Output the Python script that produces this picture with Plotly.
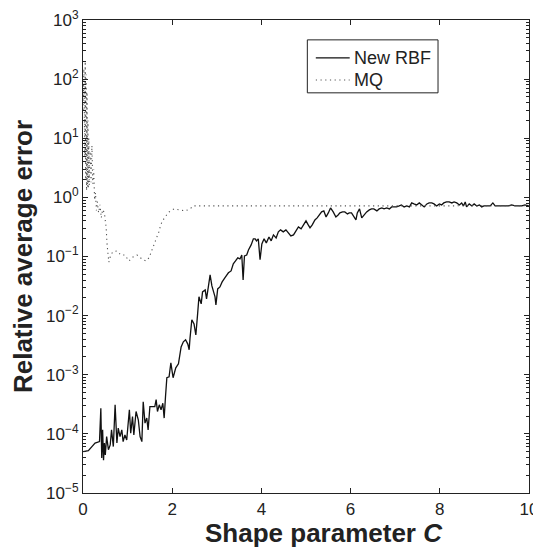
import plotly.graph_objects as go

# ---- data ----
C_rbf = [
    0.01, 0.12, 0.20, 0.27, 0.37, 0.40, 0.42, 0.44, 0.46, 0.48,
    0.50, 0.53, 0.57, 0.61, 0.64, 0.68, 0.72, 0.76, 0.79, 0.83,
    0.87, 0.90, 0.94, 0.98, 1.02, 1.04, 1.07, 1.11, 1.14, 1.19,
    1.24, 1.28, 1.32, 1.35, 1.39, 1.43, 1.46, 1.50, 1.56, 1.61,
    1.64, 1.67, 1.71, 1.75, 1.79, 1.82, 1.85, 1.88, 1.93, 1.97,
    2.02, 2.08, 2.14, 2.20, 2.25, 2.30, 2.35, 2.38, 2.40, 2.44,
    2.49, 2.53, 2.57, 2.60, 2.65, 2.68, 2.74, 2.77, 2.81, 2.85,
    2.89, 2.92, 2.96, 2.98, 3.02, 3.07, 3.12, 3.18, 3.26, 3.32,
    3.37, 3.42, 3.47, 3.52, 3.56, 3.59, 3.62, 3.67, 3.71, 3.77,
    3.82, 3.86, 3.89, 3.93, 3.97, 4.01, 4.06, 4.11, 4.17, 4.22,
    4.27, 4.33, 4.38, 4.43, 4.49, 4.55, 4.60, 4.66, 4.72, 4.78,
    4.83, 4.89, 4.96, 5.00, 5.05, 5.09, 5.14, 5.20, 5.25, 5.31,
    5.35, 5.40, 5.45, 5.50, 5.55, 5.61, 5.67, 5.72, 5.76, 5.82,
    5.87, 5.93, 5.97, 6.02, 6.08, 6.12, 6.15, 6.20, 6.25, 6.30,
    6.36, 6.42, 6.47, 6.52, 6.59, 6.64, 6.70, 6.75, 6.81, 6.87,
    6.92, 6.97, 7.03, 7.09, 7.14, 7.20, 7.26, 7.32, 7.37, 7.42,
    7.48, 7.54, 7.59, 7.65, 7.71, 7.76, 7.82, 7.87, 7.93, 7.99,
    8.04, 8.09, 8.15, 8.21, 8.27, 8.32, 8.38, 8.44, 8.49, 8.53,
    8.57, 8.60, 8.66, 8.72, 8.77, 8.83, 8.89, 8.94, 8.99, 9.05,
    9.13, 9.19, 9.24, 9.31, 9.39, 9.46, 9.54, 9.61, 9.69, 9.76,
    9.84, 9.91, 10.0,
]
err_rbf = [
    5.0e-5, 5.2e-5, 6.1e-5, 7.0e-5, 7.4e-5, 2.7e-4, 3.9e-5, 1.17e-4, 3.6e-5, 7.0e-5,
    4.4e-5, 9.0e-5, 5.4e-5, 6.5e-5, 1.17e-4, 6.1e-5, 3.1e-4, 7.0e-5, 1.25e-4, 9.0e-5,
    1.17e-4, 7.4e-5, 9.6e-5, 7.9e-5, 1.73e-4, 2.55e-4, 1.03e-4, 1.96e-4, 9.6e-5, 2.39e-4,
    1.73e-4, 9.0e-5, 7.4e-5, 3.5e-4, 1.52e-4, 1.85e-4, 1.17e-4, 2.9e-4, 2.9e-4, 2.9e-4,
    3.8e-4, 2.39e-4, 3.1e-4, 2.55e-4, 3.3e-4, 1.85e-4, 4.3e-4, 8.9e-4, 9.2e-4, 1.59e-3,
    8.9e-4, 1.31e-3, 1.53e-3, 2.96e-3, 3.6e-3, 3.9e-3, 3.3e-3, 2.64e-3, 4.2e-3, 8.5e-3,
    7.2e-3, 4.7e-3, 1.07e-2, 2.08e-2, 1.58e-2, 2.52e-2, 2.72e-2, 1.92e-2, 3.06e-2, 4.9e-2,
    3.18e-2, 2.52e-2, 2.08e-2, 1.52e-2, 2.83e-2, 3.06e-2, 3.72e-2, 4.35e-2, 5.3e-2, 5.7e-2,
    7.5e-2, 8.4e-2, 9.5e-2, 9.1e-2, 0.106, 4.0e-2, 0.102, 0.106, 0.129, 0.157,
    0.199, 0.199, 0.184, 0.199, 8.8e-2, 0.163, 0.199, 0.170, 0.214, 0.184,
    0.232, 0.206, 0.261, 0.282, 0.261, 0.282, 0.251, 0.223, 0.232, 0.282,
    0.316, 0.293, 0.370, 0.400, 0.342, 0.305, 0.342, 0.416, 0.450, 0.505,
    0.568, 0.590, 0.467, 0.546, 0.664, 0.568, 0.467, 0.505, 0.546, 0.568,
    0.568, 0.525, 0.546, 0.546, 0.467, 0.416, 0.546, 0.638, 0.450, 0.505,
    0.568, 0.614, 0.638, 0.638, 0.590, 0.638, 0.664, 0.638, 0.664, 0.638,
    0.690, 0.690, 0.690, 0.717, 0.745, 0.690, 0.717, 0.690, 0.805, 0.775,
    0.745, 0.805, 0.745, 0.690, 0.775, 0.805, 0.805, 0.775, 0.717, 0.775,
    0.745, 0.805, 0.837, 0.837, 0.805, 0.837, 0.805, 0.745, 0.805, 0.717,
    0.837, 0.690, 0.775, 0.717, 0.775, 0.717, 0.745, 0.690, 0.717, 0.717,
    0.717, 0.805, 0.717, 0.717, 0.717, 0.717, 0.717, 0.745, 0.717, 0.717,
    0.717, 0.745, 0.717,
]

C_mq = [
    0.00, 0.02, 0.04, 0.05, 0.06, 0.07, 0.08, 0.09, 0.10, 0.11,
    0.12, 0.13, 0.14, 0.16, 0.18, 0.20, 0.22, 0.24, 0.26, 0.28,
    0.30, 0.32, 0.35, 0.38, 0.41, 0.44, 0.48, 0.52, 0.54, 0.56,
    0.58, 0.62, 0.67, 0.76, 0.85, 0.94, 1.03, 1.12, 1.21, 1.32,
    1.41, 1.48, 1.57, 1.61, 1.66, 1.70, 1.73, 1.77, 1.84, 1.93,
    2.04, 2.15, 2.29, 2.40, 2.47, 10.0,
]
err_mq = [
    30, 150, 5, 200, 2, 120, 1.3, 60, 1.5, 20,
    1.4, 10, 1.6, 6, 1.8, 7.5, 1.7, 3, 0.9, 1.2,
    0.6, 0.85, 0.55, 0.75, 0.45, 0.62, 0.55, 0.3, 0.16, 0.11,
    0.08, 0.105, 0.12, 0.124, 0.106, 0.106, 0.084, 0.098, 0.106, 0.091,
    0.084, 0.095, 0.14, 0.17, 0.214, 0.26, 0.316, 0.385, 0.467, 0.567,
    0.638, 0.614, 0.59, 0.638, 0.718, 0.72,
]

series_names = ["New RBF", "MQ"]
x_ticks = [0, 2, 4, 6, 8, 10]
y_tickvals = [1e-5, 1e-4, 1e-3, 1e-2, 1e-1, 1e0, 1e1, 1e2, 1e3]
y_ticktext = ["10<sup>\u22125</sup>", "10<sup>\u22124</sup>", "10<sup>\u22123</sup>",
              "10<sup>\u22122</sup>", "10<sup>\u22121</sup>", "10<sup>0</sup>",
              "10<sup>1</sup>", "10<sup>2</sup>", "10<sup>3</sup>"]

FONT = "Liberation Sans, Arial, Helvetica, sans-serif"
INK = "#222222"
RBF_LINE = dict(color="#111111", width=1.3)
MQ_LINE = dict(color="#555555", width=1.1, dash="1.2px,3.5px")

fig = go.Figure()
fig.add_trace(go.Scatter(x=C_rbf, y=err_rbf, mode="lines", name=series_names[0],
                         line=RBF_LINE, showlegend=False))
fig.add_trace(go.Scatter(x=C_mq, y=err_mq, mode="lines", name=series_names[1],
                         line=MQ_LINE, showlegend=False))

# MATLAB-style compact legend box (paper coordinates)
LEG_X0, LEG_X1, LEG_Y0, LEG_Y1 = 0.503, 0.796, 0.846, 0.958
SAMPLE_X0, SAMPLE_X1, TEXT_X = 0.522, 0.598, 0.604
ROW_Y = [0.920, 0.873]
shapes = [dict(type="rect", xref="paper", yref="paper", x0=LEG_X0, x1=LEG_X1,
               y0=LEG_Y0, y1=LEG_Y1, line=dict(color=INK, width=1),
               fillcolor="white", layer="above")]
annotations = []
for name, style, ry in zip(series_names, [RBF_LINE, MQ_LINE], ROW_Y):
    shapes.append(dict(type="line", xref="paper", yref="paper", x0=SAMPLE_X0, x1=SAMPLE_X1,
                       y0=ry, y1=ry, line=style, layer="above"))
    annotations.append(dict(text=name, xref="paper", yref="paper", x=TEXT_X, y=ry,
                            xanchor="left", yanchor="middle", showarrow=False,
                            font=dict(size=18, family=FONT, color=INK)))
# x-axis title (MATLAB places it slightly right of the plot centre)
annotations.append(dict(text="<b>Shape parameter <i>C</i></b>", xref="paper", yref="paper",
                        x=0.540, y=-0.048, xanchor="center", yanchor="top", showarrow=False,
                        font=dict(size=26, family=FONT, color=INK)))

# the page body adds an 8px offset, so the figure is 8px smaller and margins shifted
fig.update_layout(
    width=533, height=545,
    margin=dict(l=75, r=12, t=12, b=60),
    paper_bgcolor="white", plot_bgcolor="white",
    font=dict(family=FONT, size=17, color=INK),
    showlegend=False,
    shapes=shapes, annotations=annotations,
)
fig.update_xaxes(
    range=[0, 10], tickvals=x_ticks, automargin=False, ticklabeloverflow="allow",
    showline=True, linecolor=INK, linewidth=1.2, mirror="ticks",
    ticks="inside", ticklen=5, tickcolor=INK,
    showgrid=False, zeroline=False,
    tickfont=dict(size=17, family=FONT),
)
fig.update_yaxes(
    type="log", range=[-5, 3], tickvals=y_tickvals, ticktext=y_ticktext, automargin=False,
    ticklabeloverflow="allow",
    showline=True, linecolor=INK, linewidth=1.2, mirror="ticks",
    ticks="inside", ticklen=5, tickcolor=INK,
    minor=dict(ticks="inside", ticklen=3, tickcolor=INK, dtick="D1", showgrid=False),
    showgrid=False, zeroline=False,
    tickfont=dict(size=17, family=FONT),
    title=dict(text="<b>Relative average error</b>", font=dict(size=26, family=FONT), standoff=8),
)

fig.write_html("out.html")
